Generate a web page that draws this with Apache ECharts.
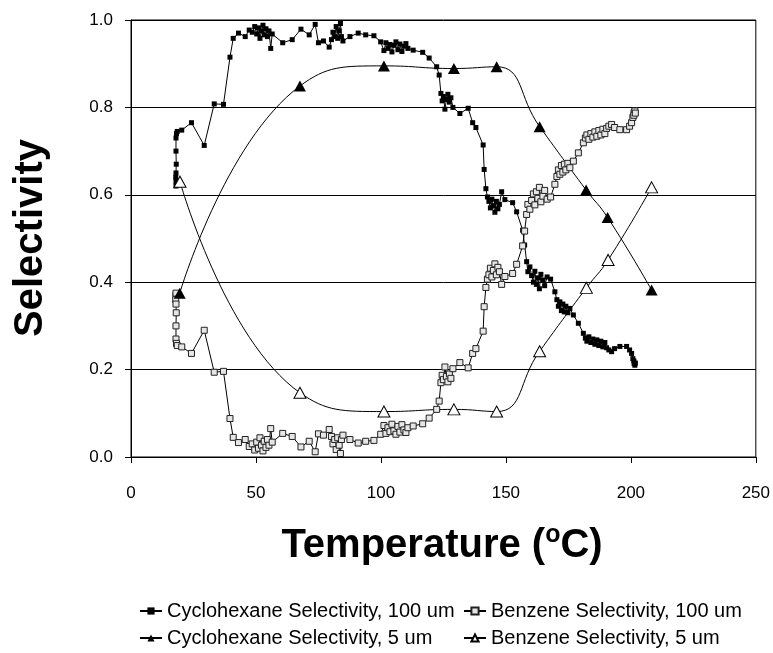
<!DOCTYPE html>
<html>
<head>
<meta charset="utf-8">
<script src="https://cdn.jsdelivr.net/npm/echarts@6/dist/echarts.min.js"></script>
<style>
html,body{margin:0;padding:0;background:#fff;}
#chart{width:773px;height:653px;}
</style>
</head>
<body>
<div id="chart"></div>
<script>
// ---- data ----
const xTicks = [0, 50, 100, 150, 200, 250];
const yTicks = [0.0, 0.2, 0.4, 0.6, 0.8, 1.0];

const cyc100Temp = [18.0,18.0,17.9,18.0,18.1,18.0,18.0,18.2,18.5,20.3,24.2,29.3,33.3,37.0,39.6,40.9,43.0,45.7,47.3,48.5,49.5,50.3,51.0,51.6,52.2,52.8,53.3,54.0,54.6,55.2,55.9,56.5,60.7,64.5,68.0,71.3,73.7,75.0,77.0,79.3,80.2,80.8,81.5,82.1,82.7,83.3,83.8,84.2,84.8,87.6,90.9,93.9,97.2,99.9,101.2,102.0,102.8,103.6,104.4,105.2,106.0,106.8,107.6,108.4,109.2,110.0,110.8,112.9,116.7,119.3,122.3,123.3,124.0,124.5,125.0,125.6,126.2,126.8,127.4,128.0,128.8,131.6,134.9,136.7,138.0,140.9,141.3,142.0,142.6,143.2,143.8,144.4,145.0,145.6,146.2,146.8,147.4,148.3,149.6,152.7,154.3,156.7,157.5,158.3,158.8,159.6,160.3,161.0,161.6,162.2,162.8,163.4,164.0,164.8,165.5,166.5,167.9,169.6,170.4,171.0,171.6,172.2,172.8,173.4,174.0,174.8,175.6,177.0,179.0,181.0,181.8,182.4,183.2,184.0,184.8,185.6,186.4,187.2,188.0,188.8,189.6,190.3,191.2,192.3,193.5,195.6,198.3,199.5,200.3,200.8,201.3,201.6,201.2,201.8];
const cyc100Sel = [0.62,0.63,0.64,0.65,0.67,0.70,0.73,0.74,0.745,0.748,0.765,0.713,0.808,0.807,0.915,0.958,0.970,0.962,0.977,0.972,0.985,0.968,0.982,0.958,0.975,0.988,0.966,0.980,0.962,0.975,0.935,0.968,0.948,0.955,0.979,0.966,0.990,0.948,0.952,0.938,0.955,0.972,0.962,0.985,0.958,0.975,0.992,0.962,0.952,0.962,0.970,0.966,0.964,0.950,0.930,0.948,0.935,0.944,0.927,0.942,0.950,0.932,0.945,0.928,0.940,0.946,0.935,0.931,0.926,0.913,0.893,0.874,0.832,0.815,0.825,0.796,0.818,0.830,0.812,0.822,0.800,0.786,0.798,0.765,0.754,0.714,0.658,0.614,0.595,0.585,0.570,0.590,0.575,0.560,0.585,0.568,0.578,0.607,0.589,0.582,0.561,0.519,0.485,0.447,0.424,0.435,0.415,0.400,0.425,0.395,0.410,0.385,0.418,0.405,0.392,0.412,0.407,0.378,0.360,0.345,0.355,0.335,0.350,0.332,0.345,0.330,0.340,0.325,0.306,0.283,0.272,0.265,0.275,0.262,0.270,0.258,0.268,0.255,0.265,0.252,0.262,0.250,0.245,0.241,0.248,0.253,0.253,0.245,0.237,0.225,0.214,0.210,0.220,0.215];

const benz100Temp = [18.0,18.0,17.9,18.0,18.1,18.0,18.0,18.2,18.5,20.3,24.2,29.3,33.3,37.0,39.6,40.9,43.0,45.7,47.3,48.5,49.5,50.3,51.0,51.6,52.2,52.8,53.3,54.0,54.6,55.2,55.9,56.5,60.7,64.5,68.0,71.3,73.7,75.0,77.0,79.3,80.2,80.8,81.5,82.1,82.7,83.3,83.8,84.2,84.8,87.6,90.9,93.9,97.2,99.9,101.2,102.0,102.8,103.6,104.4,105.2,106.0,106.8,107.6,108.4,109.2,110.0,110.8,112.9,116.7,119.3,122.3,123.3,124.0,124.5,125.0,125.6,126.2,126.8,127.4,128.0,128.8,131.6,134.9,136.7,138.0,140.9,141.3,142.0,142.6,143.2,143.8,144.4,145.0,145.6,146.2,146.8,147.4,148.3,149.6,152.7,154.3,156.7,157.5,158.3,158.8,159.6,160.3,161.0,161.6,162.2,162.8,163.4,164.0,164.8,165.5,166.5,167.9,169.6,170.4,171.0,171.6,172.2,172.8,173.4,174.0,174.8,175.6,177.0,179.0,181.0,181.8,182.4,183.2,184.0,184.8,185.6,186.4,187.2,188.0,188.8,189.6,190.3,191.2,192.3,193.5,195.6,198.3,199.5,200.3,200.8,201.3,201.6,201.2,201.8];
const benz100Sel = [0.37,0.375,0.36,0.35,0.33,0.30,0.27,0.26,0.255,0.252,0.237,0.290,0.194,0.196,0.088,0.045,0.033,0.040,0.024,0.030,0.016,0.034,0.020,0.044,0.027,0.014,0.036,0.022,0.040,0.027,0.065,0.034,0.054,0.047,0.023,0.036,0.012,0.053,0.050,0.063,0.047,0.030,0.040,0.017,0.044,0.027,0.008,0.040,0.050,0.040,0.032,0.036,0.038,0.052,0.072,0.054,0.067,0.058,0.075,0.060,0.052,0.070,0.057,0.074,0.062,0.056,0.067,0.071,0.076,0.089,0.109,0.128,0.170,0.187,0.177,0.206,0.184,0.172,0.190,0.180,0.202,0.216,0.204,0.237,0.248,0.288,0.344,0.388,0.407,0.417,0.432,0.412,0.427,0.442,0.417,0.434,0.424,0.395,0.413,0.420,0.441,0.483,0.517,0.555,0.578,0.567,0.587,0.602,0.577,0.607,0.592,0.617,0.584,0.597,0.610,0.590,0.595,0.624,0.642,0.657,0.647,0.667,0.652,0.670,0.657,0.672,0.662,0.677,0.696,0.719,0.730,0.737,0.727,0.740,0.732,0.744,0.734,0.747,0.737,0.750,0.740,0.752,0.757,0.761,0.754,0.749,0.749,0.757,0.765,0.777,0.788,0.792,0.782,0.787];

const cyc5Temp = [19.5, 67.6, 101.2, 129.2, 146.3, 163.5, 182.1, 190.7, 208.3];
const cyc5Sel  = [0.375, 0.849, 0.895, 0.889, 0.893, 0.756, 0.611, 0.548, 0.382];

const benz5Temp = [19.6, 67.6, 101.2, 129.2, 146.3, 163.5, 182.2, 190.9, 208.3];
const benz5Sel  = [0.630, 0.147, 0.104, 0.109, 0.104, 0.242, 0.387, 0.451, 0.617];

const seriesNames = [
  'Cyclohexane Selectivity, 100 um',
  'Benzene Selectivity, 100 um',
  'Cyclohexane Selectivity, 5 um',
  'Benzene Selectivity, 5 um'
];

function pairs(xs, ys){ return xs.map((x,i)=>[x, ys[i]]); }

const FONT = 'Arial, "Liberation Sans", sans-serif';
const chart = echarts.init(document.getElementById('chart'), null, {renderer:'canvas'});

function legendAt(name, left, top){
  return {
    left: left, top: top, orient: 'horizontal', itemWidth: 22, itemHeight: 9, itemGap: 0,
    textStyle: { fontSize: 20, color: '#000', fontFamily: FONT },
    data: [name]
  };
}

const option = {
  animation: false,
  backgroundColor: '#fff',
  grid: { left: 131, right: 17, top: 20, bottom: 196, show: true, borderColor: '#000', borderWidth: 1, containLabel: false },
  xAxis: {
    type: 'value', min: xTicks[0], max: xTicks[xTicks.length-1], interval: 50,
    axisLine: { show: true, onZero: false, lineStyle: { color: '#000', width: 1 } },
    axisTick: { show: true, inside: false, length: 6, lineStyle: { color: '#000' } },
    axisLabel: { color: '#000', fontSize: 17, fontFamily: FONT, margin: 28 },
    splitLine: { show: false }
  },
  yAxis: {
    type: 'value', min: yTicks[0], max: yTicks[yTicks.length-1], interval: 0.2,
    axisLine: { show: true, onZero: false, lineStyle: { color: '#000', width: 1 } },
    axisTick: { show: true, inside: false, length: 6, lineStyle: { color: '#000' } },
    axisLabel: { color: '#000', fontSize: 17, fontFamily: FONT, margin: 18, formatter: v => v.toFixed(1) },
    splitLine: { show: true, lineStyle: { color: '#000', width: 1 } }
  },
  legend: [
    legendAt(seriesNames[0], 134, 596),
    legendAt(seriesNames[2], 134, 623),
    legendAt(seriesNames[1], 458, 596),
    legendAt(seriesNames[3], 458, 623)
  ],
  graphic: [
    {
      type: 'text', x: 31, y: 238, rotation: Math.PI / 2,
      style: { text: 'Selectivity', font: 'bold 40px ' + FONT, fill: '#000', textAlign: 'center', textVerticalAlign: 'middle' }
    },
    {
      type: 'text', x: 442, y: 546,
      style: {
        text: '{a|Temperature (}{b|o}{a|C)}',
        textAlign: 'center', textVerticalAlign: 'middle',
        rich: {
          a: { fontSize: 40, fontWeight: 'bold', fontFamily: FONT, fill: '#000', lineHeight: 46, verticalAlign: 'middle' },
          b: { fontSize: 25, fontWeight: 'bold', fontFamily: FONT, fill: '#000', lineHeight: 26, verticalAlign: 'top' }
        }
      }
    }
  ],
  series: [
    {
      name: seriesNames[0], type: 'line', data: pairs(cyc100Temp, cyc100Sel),
      symbol: 'rect', symbolSize: 5, showSymbol: true,
      itemStyle: { color: '#000' }, lineStyle: { color: '#000', width: 1 }
    },
    {
      name: seriesNames[1], type: 'line', data: pairs(benz100Temp, benz100Sel),
      symbol: 'rect', symbolSize: 6, showSymbol: true,
      itemStyle: { color: '#e6e6e6', borderColor: '#222', borderWidth: 1 }, lineStyle: { color: '#000', width: 1 }
    },
    {
      name: seriesNames[2], type: 'line', data: pairs(cyc5Temp, cyc5Sel), smooth: 0.5,
      symbol: 'triangle', symbolSize: [12, 11], showSymbol: true,
      itemStyle: { color: '#000' }, lineStyle: { color: '#000', width: 1 }
    },
    {
      name: seriesNames[3], type: 'line', data: pairs(benz5Temp, benz5Sel), smooth: 0.5,
      symbol: 'triangle', symbolSize: [12, 11], showSymbol: true,
      itemStyle: { color: '#fff', borderColor: '#000', borderWidth: 1 }, lineStyle: { color: '#000', width: 1 }
    }
  ]
};
chart.setOption(option);
</script>
</body>
</html>
